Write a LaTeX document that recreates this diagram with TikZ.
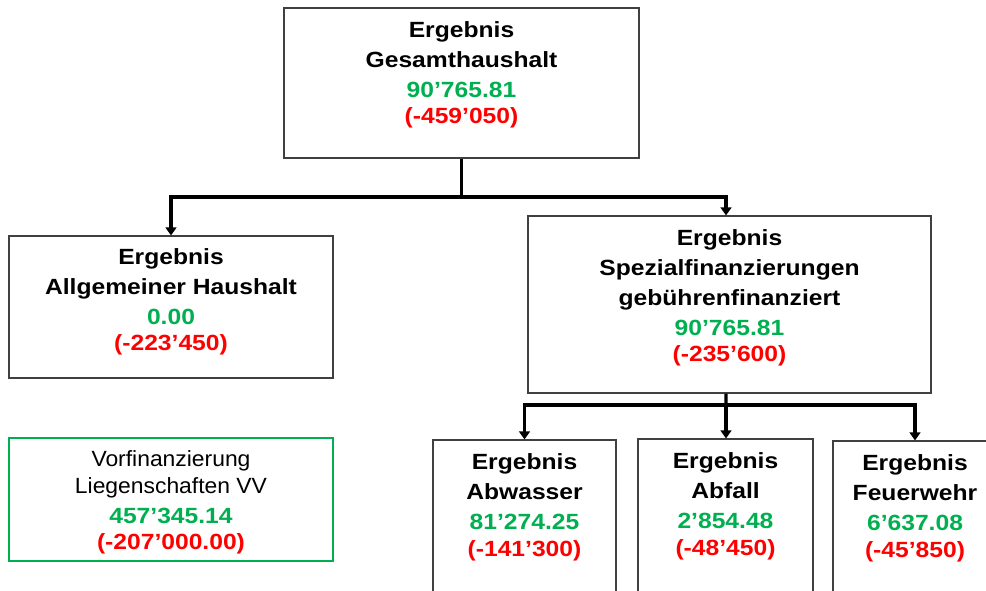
\documentclass[tikz,border=0pt]{standalone}
\usepackage{fontspec}
\usepackage{xcolor}
\usetikzlibrary{positioning,arrows.meta}

\newfontfamily\boldfam{Liberation Sans}[FakeStretch=1.12]
\newfontfamily\plainfam{Liberation Sans}[FakeStretch=1.04]
\definecolor{posgreen}{HTML}{00B050}
\definecolor{negred}{HTML}{FF0000}
\newcommand{\istwert}[1]{{\boldfam\bfseries\color{posgreen}#1}}
\newcommand{\planwert}[1]{{\boldfam\bfseries\color{negred}#1}}

\begin{document}
\begin{tikzpicture}[x=0.75pt,y=-0.75pt,
    box/.style={draw=black!75, line width=0.8pt, rectangle, inner sep=0pt},
    txt/.style={align=center, inner sep=0pt, font=\boldfam\bfseries\fontsize{16.5}{22.5}\selectfont},
    plaintxt/.style={align=center, inner sep=0pt, font=\plainfam\fontsize{16.5}{22.5}\selectfont},
    bus/.style={line width=2.4pt},
    conn/.style={line width=2.4pt, -{Triangle[width=8pt,length=6pt]}}]
                    \fill[white] (0,0) rectangle (986,590);
                    \useasboundingbox (0,0) rectangle (986,590);
                    \clip (0,0) rectangle (986,590);

                    \node[box, minimum width=266.25pt, minimum height=112.5pt] (ges) at (461.5,83) {};
                    \node[txt, below=10pt of ges.north] (gesT) {Ergebnis\\Gesamthaushalt\\\istwert{90’765.81}\\[-3pt]\planwert{(-459’050)}};

                    \node[box, minimum width=243pt, minimum height=106.5pt] (allg) at (171,307) {};
                    \node[txt, below=9.5pt of allg.north] (allgT) {Ergebnis\\Allgemeiner Haushalt\\\istwert{0.00}\\[-3pt]\planwert{(-223’450)}};

                    \node[box, minimum width=302.25pt, minimum height=132.75pt] (spez) at (729.5,304.5) {};
                    \node[txt, below=10pt of spez.north] (spezT) {Ergebnis\\Spezialfinanzierungen\\gebührenfinanziert\\\istwert{90’765.81}\\[-3pt]\planwert{(-235’600)}};

                    \node[box, draw=posgreen, minimum width=243pt, minimum height=92.25pt] (vorf) at (171,499.5) {};
                    \node[plaintxt, below=9.5pt of vorf.north] (vorfT) {Vorfinanzierung\\[-2pt]Liegenschaften VV\\\istwert{457’345.14}\\[-3pt]\planwert{(-207’000.00)}};

                    \node[box, minimum width=137.25pt, minimum height=120pt] (abw) at (524.5,520) {};
                    \node[txt, below=10pt of abw.north] (abwT) {Ergebnis\\Abwasser\\\istwert{81’274.25}\\[-2pt]\planwert{(-141’300)}};

                    \node[box, minimum width=131.25pt, minimum height=120.75pt] (abf) at (725.5,519.5) {};
                    \node[txt, below=10pt of abf.north] (abfT) {Ergebnis\\Abfall\\\istwert{2’854.48}\\[-2pt]\planwert{(-48’450)}};

                    \node[box, minimum width=123pt, minimum height=119.25pt] (feu) at (915,520.5) {};
                    \node[txt, below=10pt of feu.north] (feuT) {Ergebnis\\Feuerwehr\\\istwert{6’637.08}\\[-2pt]\planwert{(-45’850)}};

                    \coordinate (bus1) at (461.5,197);
                    \coordinate (bus2) at (726,405);
                    \draw[bus] (ges.south) -- (bus1);
                    \draw[conn] (bus1) -| (allg.north);
                    \draw[conn] (bus1) -| ([xshift=-2.6pt]spez.north);
                    \draw[bus] ([xshift=-2.6pt]spez.south) -- (bus2);
                    \draw[conn] (bus2) -| (abw.north);
                    \draw[conn] (bus2) -- (bus2 |- abf.north);
                    \draw[conn] (bus2) -| (feu.north);
\end{tikzpicture}
\end{document}
